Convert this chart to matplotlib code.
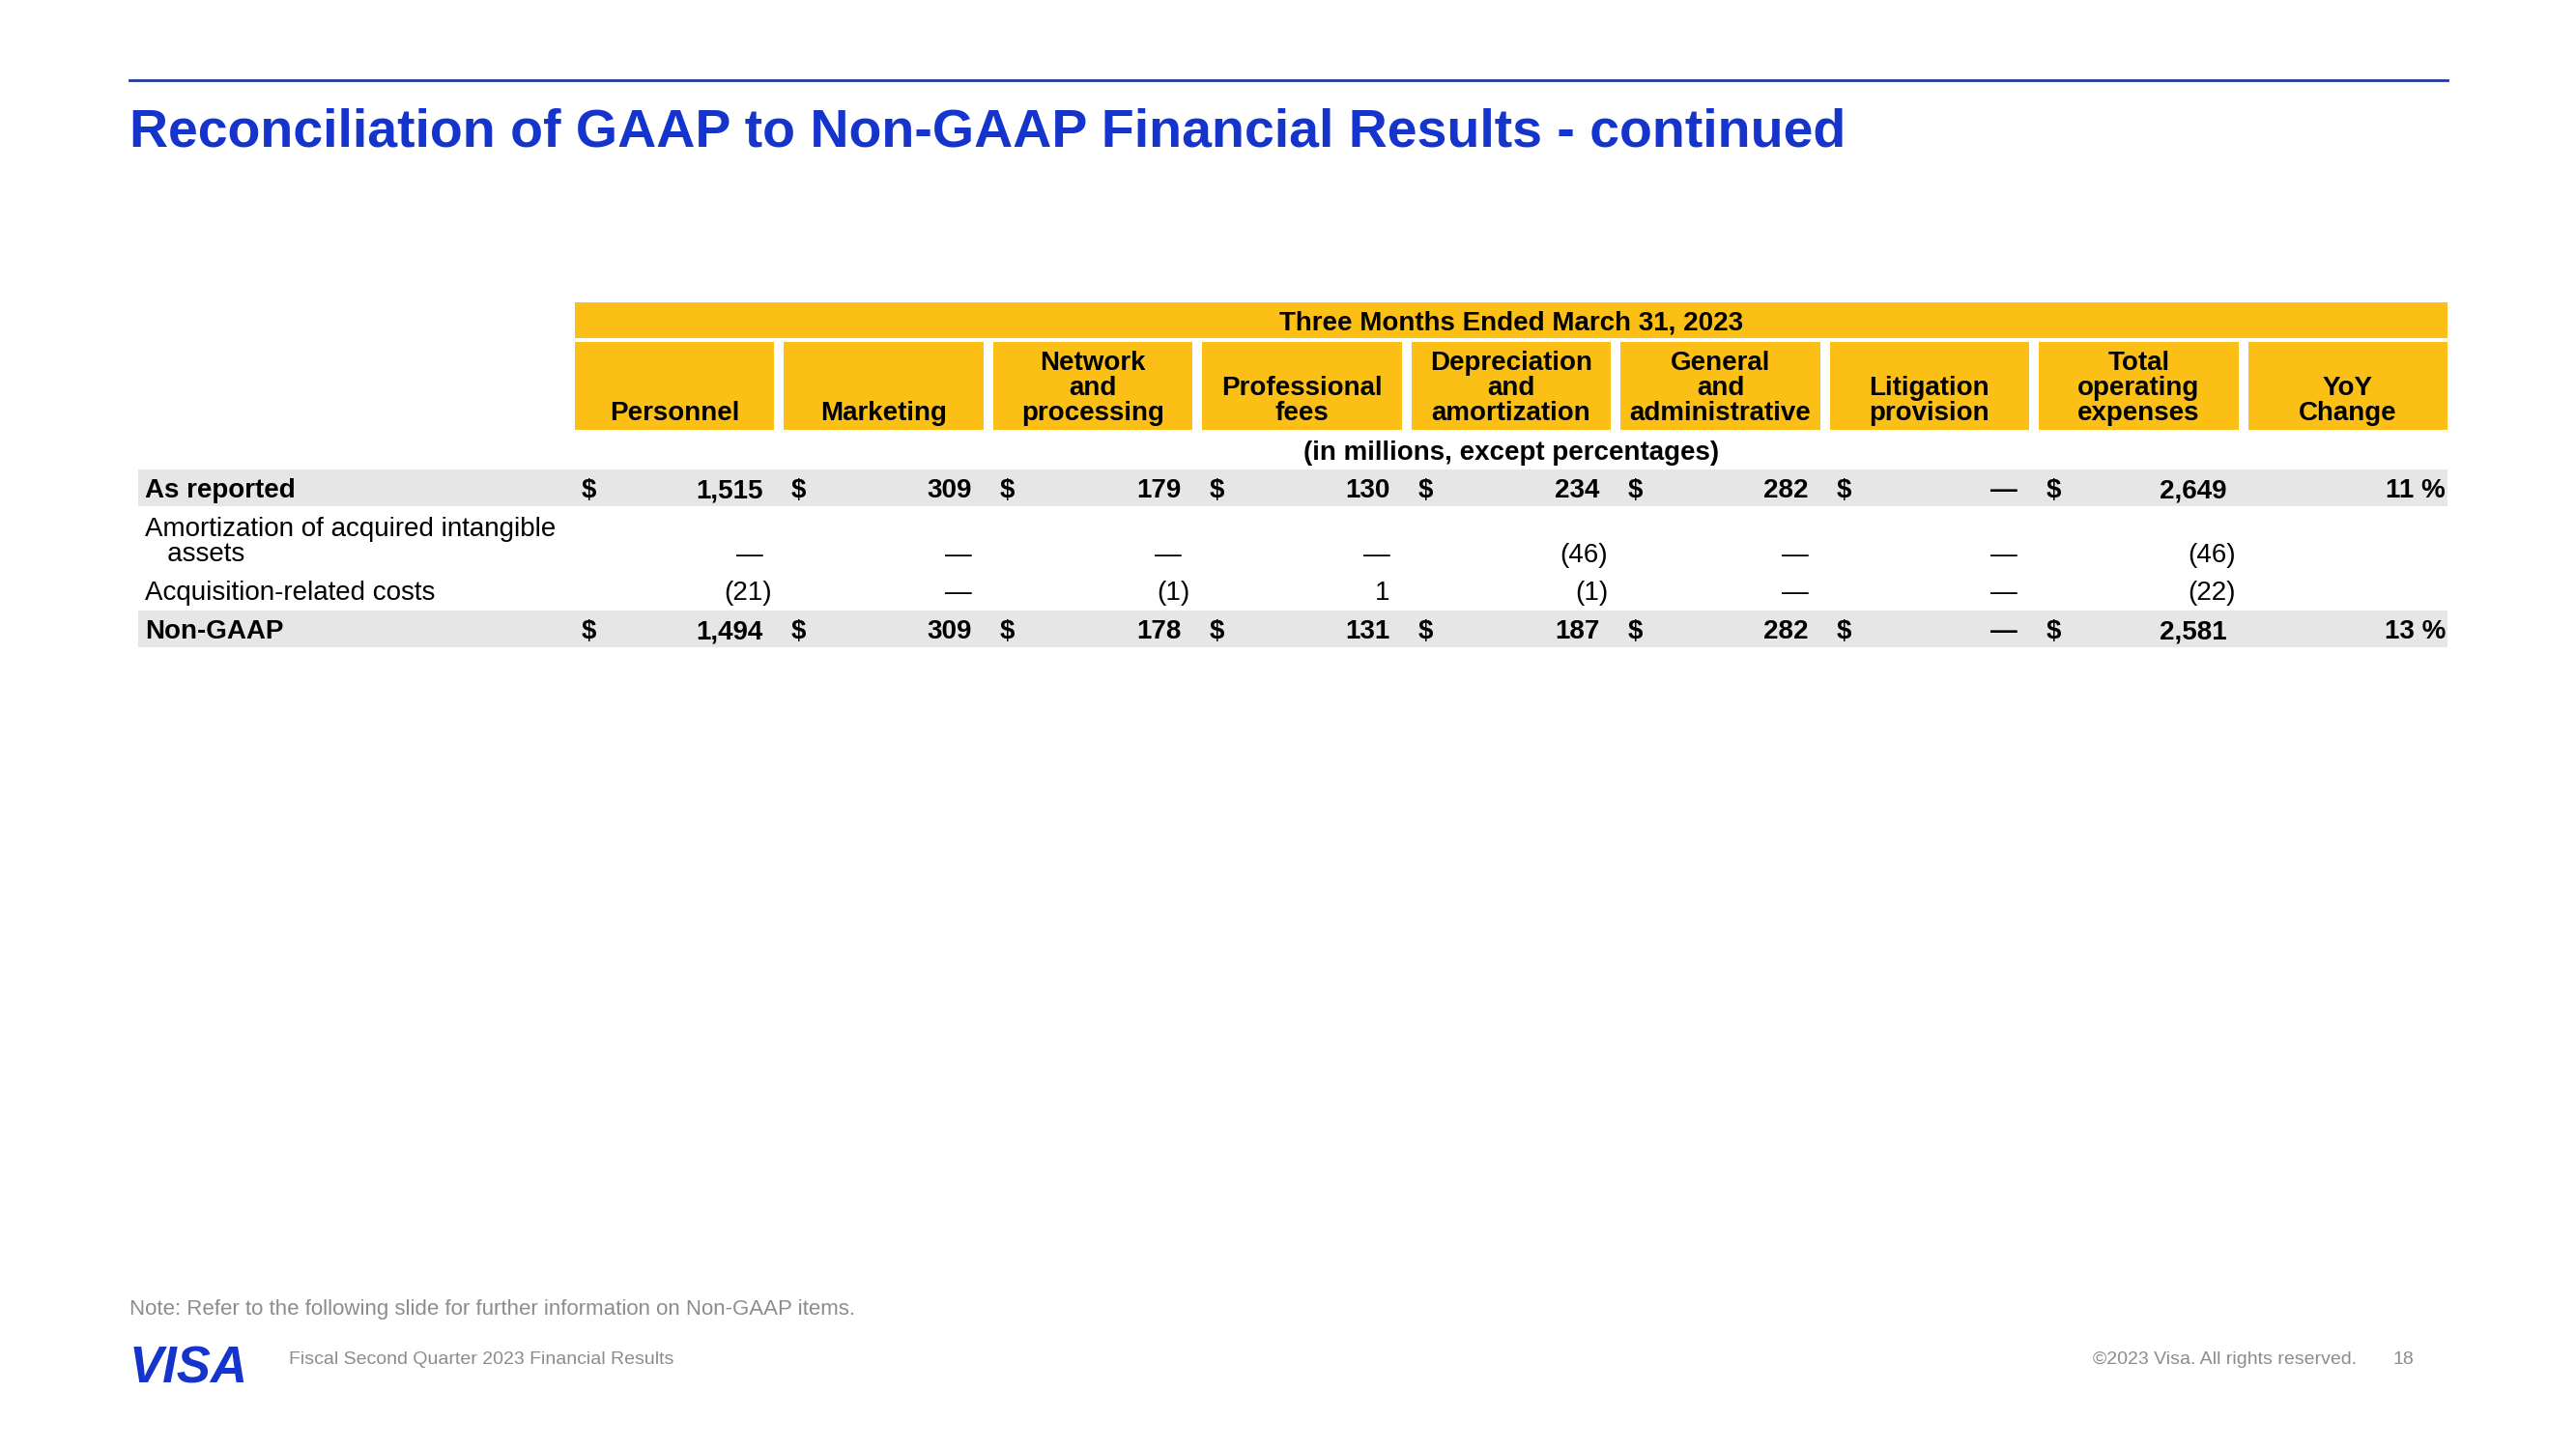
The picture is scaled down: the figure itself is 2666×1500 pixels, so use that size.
import matplotlib.pyplot as plt
from matplotlib.patches import Rectangle

plt.rcParams["font.family"] = ["Liberation Sans", "DejaVu Sans"]

# ===== Table data =====
period_label = "Three Months Ended March 31, 2023"
units_label = "(in millions, except percentages)"
columns = [
    "Personnel",
    "Marketing",
    "Network\nand\nprocessing",
    "Professional\nfees",
    "Depreciation\nand\namortization",
    "General\nand\nadministrative",
    "Litigation\nprovision",
    "Total\noperating\nexpenses",
    "YoY\nChange",
]
row_labels = [
    "As reported",
    "Amortization of acquired intangible\n   assets",
    "Acquisition-related costs",
    "Non-GAAP",
]
as_reported = [1515, 309, 179, 130, 234, 282, 0, 2649]
amortization = [0, 0, 0, 0, -46, 0, 0, -46]
acquisition = [-21, 0, -1, 1, -1, 0, 0, -22]
non_gaap = [1494, 309, 178, 131, 187, 282, 0, 2581]
yoy_change = [11, None, None, 13]

title = "Reconciliation of GAAP to Non-GAAP Financial Results - continued"
note = "Note: Refer to the following slide for further information on Non-GAAP items."
footer_left = "Fiscal Second Quarter 2023 Financial Results"
footer_right = "©2023 Visa. All rights reserved."
page_number = "18"

# ===== Styling =====
BLUE = "#1434CB"
RULE = "#1f3a9c"
GOLD = "#FBBF16"
GREY_BAND = "#E6E6E6"
GREY_TEXT = "#8C8C8C"
FS = 20

# layout in pixels of the 2666x1500 slide
TABLE_LEFT = 595
TABLE_RIGHT = 2533
COL_GAP = 10
COL_PITCH = (TABLE_RIGHT - TABLE_LEFT + COL_GAP) / len(columns)
COL_W = COL_PITCH - COL_GAP
ROW_Y = [505, 572, 611, 651]
BAND_ROWS = [0, 3]
TXT_DY = 3  # centre of glyphs sits a little below the band centre


def fmt(v):
    """Accounting style number."""
    if v == 0:
        return "\u2014"
    if v < 0:
        return f"({abs(v):,})"
    return f"{v:,}"


fig = plt.figure(figsize=(26.66, 15), dpi=100)
ax = fig.add_axes([0, 0, 1, 1])
ax.set_xlim(0, 2666)
ax.set_ylim(1500, 0)
ax.axis("off")

# Title block
ax.plot([134, 2533], [83, 83], color=RULE, lw=2)
ax.text(134, 137, title, fontsize=40, fontweight="bold", color=BLUE, va="center", ha="left")

# Period header band
ax.add_patch(Rectangle((TABLE_LEFT, 313), TABLE_RIGHT - TABLE_LEFT, 37, color=GOLD, lw=0))
ax.text((TABLE_LEFT + TABLE_RIGHT) / 2, 334, period_label, fontsize=FS, fontweight="bold",
        ha="center", va="center")

# Column headers
for i, name in enumerate(columns):
    x0 = TABLE_LEFT + i * COL_PITCH
    ax.add_patch(Rectangle((x0, 354), COL_W, 91, color=GOLD, lw=0))
    ax.text(x0 + COL_W / 2, 441, name, fontsize=FS, fontweight="bold", ha="center",
            va="bottom", linespacing=1.0, multialignment="center")

ax.text((TABLE_LEFT + TABLE_RIGHT) / 2, 469, units_label, fontsize=FS, fontweight="bold",
        ha="center", va="center")

# Body rows
rows = [as_reported, amortization, acquisition, non_gaap]
for r, (label, vals) in enumerate(zip(row_labels, rows)):
    y = ROW_Y[r]
    ty = y + TXT_DY
    bold = r in BAND_ROWS
    weight = "bold" if bold else "normal"
    if bold:
        ax.add_patch(Rectangle((143, y - 19), TABLE_RIGHT - 143, 38, color=GREY_BAND, lw=0))
    if "\n" in label:
        ax.text(150, ty - 14, label, fontsize=FS, fontweight=weight, ha="left", va="center",
                linespacing=1.0)
    else:
        ax.text(150, ty, label, fontsize=FS, fontweight=weight, ha="left", va="center")
    for c, v in enumerate(vals):
        x0 = TABLE_LEFT + c * COL_PITCH
        x1 = x0 + COL_W
        if bold:
            ax.text(x0 + 7, ty, "$", fontsize=FS, fontweight=weight, ha="left", va="center")
        xr = x1 - 3 if v < 0 else x1 - 12
        ax.text(xr, ty, fmt(v), fontsize=FS, fontweight=weight, ha="right", va="center")
    if yoy_change[r] is not None:
        ax.text(TABLE_RIGHT - 2, ty, f"{yoy_change[r]} %", fontsize=FS, fontweight=weight,
                ha="right", va="center")

# Footer
ax.text(134, 1356, note, fontsize=16, color=GREY_TEXT, ha="left", va="center")
ax.text(134, 1417, "VISA", fontsize=38, fontweight="bold", fontstyle="italic", color=BLUE,
        ha="left", va="center")
ax.text(299, 1407, footer_left, fontsize=14, color=GREY_TEXT, ha="left", va="center")
ax.text(2439, 1408, footer_right, fontsize=14, color=GREY_TEXT, ha="right", va="center")
ax.text(2477, 1408, page_number, fontsize=14, color=GREY_TEXT, ha="left", va="center")

fig.savefig("out.png", dpi=100)
